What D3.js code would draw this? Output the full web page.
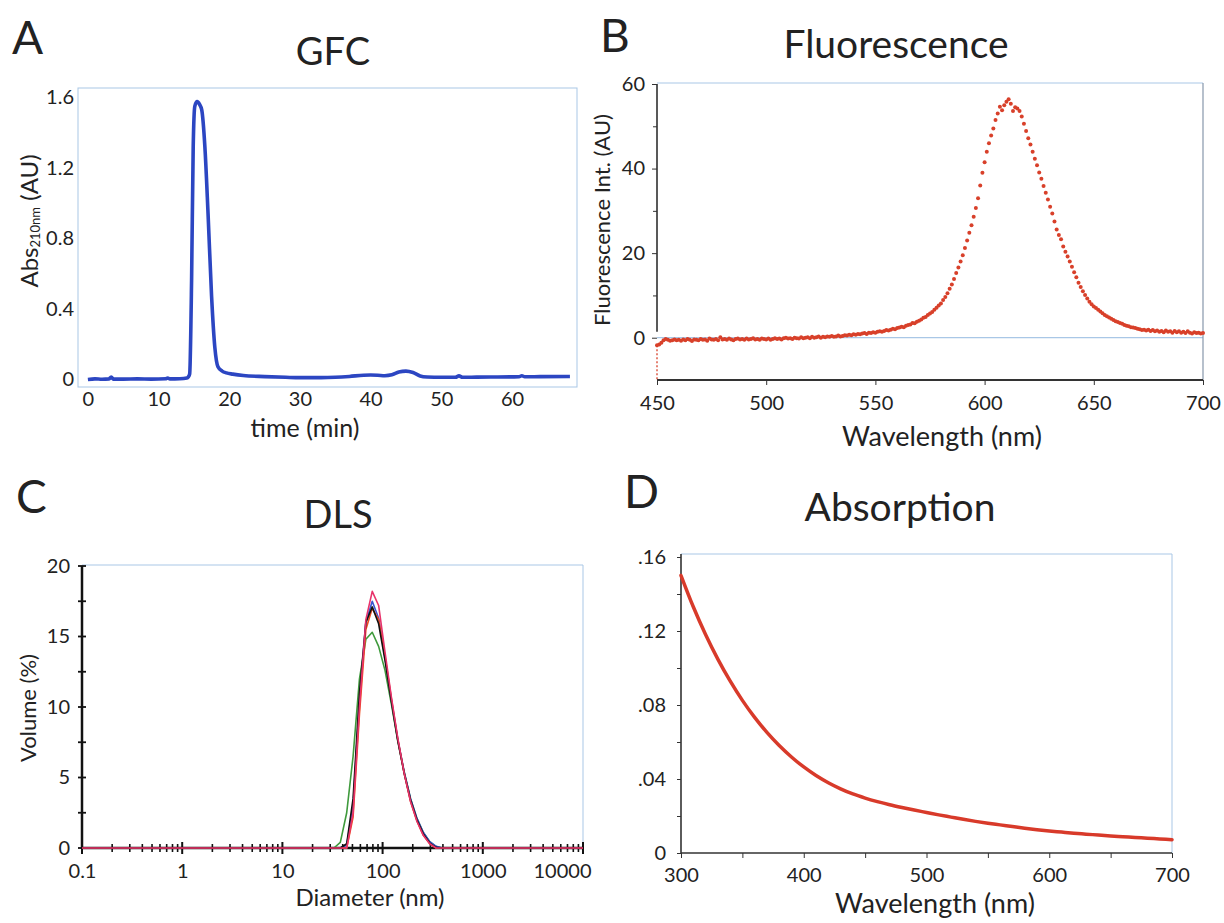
<!DOCTYPE html>
<html lang="en">
<head>
<meta charset="UTF-8">
<title>GFC / Fluorescence / DLS / Absorption</title>
<script src="https://cdn.jsdelivr.net/npm/d3@7"></script>
<style>
  body { margin: 0; background: #fff; }
  svg { display: block; font-family: Lato, "Open Sans", sans-serif; }
</style>
</head>
<body>
<svg id="fig" width="1224" height="923"></svg>
<script>
// ---- data ----

// A: GFC trace [time (min), Abs 210nm]
const gfcTrace = [
  [0,-0.002],[1,0.001],[2,-0.001],[3,0.001],[3.3,0.012],[3.6,0.0],[5,0.0],[7,0.001],[9,0.0],
  [11,0.002],[11.3,0.006],[11.6,0.001],[13,0.002],[14,0.006],[14.2,0.012],[14.4,0.03],
  [14.67,0.56],[14.9,1.32],[15.13,1.55],[15.46,1.576],[15.8,1.56],[16.1,1.53],[16.55,1.32],
  [17.0,0.94],[17.5,0.47],[17.96,0.18],[18.4,0.07],[19.0,0.045],[19.6,0.035],[20.5,0.028],
  [22,0.02],[25,0.014],[28,0.01],[30,0.008],[33,0.008],[35,0.01],[37,0.015],[39,0.022],
  [40,0.023],[41,0.022],[42,0.019],[43,0.024],[44,0.04],[45,0.045],[46,0.037],[47,0.018],
  [48,0.012],[50,0.01],[52,0.01],[52.5,0.018],[53,0.01],[55,0.011],[58,0.012],[61,0.013],
  [61.4,0.019],[61.8,0.013],[64,0.014],[68.2,0.015]
];
const gfcXTicks = [0, 10, 20, 30, 40, 50, 60];
const gfcYTicks = [0, 0.4, 0.8, 1.2, 1.6];

// B: fluorescence, one value per nm from 450 to 700
const fluoStart = 450;
const fluoValues = [
  -1.8,-1.6,-1.2,-0.6,-0.3,-0.5,-0.7,-0.6,-0.4,-0.6,
  -0.5,-0.7,-0.4,-0.6,-0.3,-0.5,-0.8,-0.4,-0.5,-0.6,
  -0.3,-0.5,-0.4,-0.7,-0.2,-0.4,-0.5,-0.3,-0.6,0.1,
  -0.4,-0.3,-0.5,-0.2,-0.4,-0.6,-0.3,-0.2,-0.4,-0.3,
  -0.5,-0.2,-0.4,-0.3,-0.1,-0.4,-0.3,-0.5,-0.2,-0.3,
  -0.4,-0.2,-0.5,-0.3,-0.1,-0.3,-0.2,-0.4,-0.1,0.0,
  -0.2,-0.1,-0.3,0.0,-0.1,-0.2,0.1,-0.1,0.0,0.1,
  -0.1,0.2,0.0,0.1,0.3,0.0,0.2,0.1,0.3,0.2,
  0.4,0.2,0.3,0.5,0.3,0.4,0.6,0.5,0.7,0.6,
  0.8,0.7,0.9,0.8,1.0,1.1,0.9,1.2,1.1,1.3,
  1.2,1.4,1.5,1.4,1.6,1.8,1.7,1.9,2.1,2.0,
  2.3,2.4,2.6,2.5,2.8,3.0,3.1,3.5,3.4,3.8,
  4.0,4.3,4.7,4.9,5.4,5.7,6.1,6.6,7.1,7.6,
  8.1,8.9,9.6,10.5,11.6,12.6,13.9,15.3,16.6,18.0,
  19.5,21.2,23.0,24.8,26.6,28.6,30.7,33.0,36.0,39.0,
  41.5,44.0,46.0,47.8,49.5,51.5,53.0,54.6,53.8,55.0,
  55.8,56.4,55.3,53.6,54.5,54.2,53.6,52.3,50.6,48.9,
  47.2,45.7,44.0,42.3,40.8,39.1,37.6,35.9,34.3,32.7,
  31.0,29.4,27.5,25.6,24.3,23.3,21.6,20.3,19.2,18.0,
  16.8,15.5,14.3,13.0,12.0,11.0,10.1,9.3,8.5,7.9,
  7.4,7.0,6.6,6.2,5.8,5.4,5.1,4.8,4.5,4.2,
  3.9,3.7,3.5,3.3,3.0,2.8,2.7,2.5,2.4,2.3,
  2.1,2.0,1.8,1.9,1.7,1.9,1.6,1.8,1.5,1.7,
  1.4,1.6,1.3,1.7,1.4,1.5,1.2,1.6,1.3,1.5,
  1.2,1.4,1.1,1.5,1.2,1.0,1.3,1.1,1.2,1.0,
  1.1
];
const fluoXTicks = [450, 500, 550, 600, 650, 700];
const fluoYTicks = [0, 20, 40, 60];

// C: DLS volume distributions (5 runs)
const dlsDiameter = [0.1,0.4,28.21,32.67,37.84,43.82,50.75,58.77,68.06,78.82,91.28,105.7,122.4,141.8,164.2,190.1,220.2,255.0,295.3,342.0,396.1,458.7,10000];
const dlsGreen = [0,0,0,0,0.4,2.5,6.5,12.0,14.8,15.3,14.3,12.6,10.2,7.6,5.4,3.5,2.1,1.1,0.45,0.1,0,0,0];
const dlsBlue  = [0,0,0,0,0,0.2,3.0,10.5,16.0,17.5,16.3,13.5,10.5,7.7,5.4,3.5,2.1,1.1,0.45,0.12,0,0,0];
const dlsRed   = [0,0,0,0,0,0,2.2,9.5,15.5,17.0,16.2,13.6,10.6,7.7,5.3,3.3,1.9,0.9,0.3,0,0,0,0];
const dlsBlack = [0,0,0,0,0,0.3,3.5,11.0,16.0,17.1,15.9,13.3,10.4,7.6,5.3,3.4,2.0,1.0,0.35,0.05,0,0,0];
const dlsPink  = [0,0,0,0,0,0,2.5,10.0,16.2,18.2,17.2,13.9,10.7,7.8,5.3,3.3,1.9,0.9,0.3,0,0,0,0];
const dlsXTicks = [0.1, 1, 10, 100, 1000, 10000];
const dlsYTicks = [0, 5, 10, 15, 20];

// D: absorption, every 10 nm from 300 to 700
const absStart = 300;
const absValues = [
  0.150,0.1331,0.1181,0.1048,0.0930,0.0825,0.0733,0.0652,0.0581,0.0519,
  0.0465,0.0419,0.0380,0.0347,0.0319,0.0297,0.0278,0.0261,0.0246,0.0232,
  0.0219,0.0206,0.0194,0.0182,0.0171,0.0161,0.0152,0.0143,0.0134,0.0126,
  0.0119,0.0113,0.0107,0.0102,0.0097,0.0092,0.0088,0.0084,0.0080,0.0076,
  0.0072
];
const absXTicks = [300, 400, 500, 600, 700];
const absYTicks = [0, 0.04, 0.08, 0.12, 0.16];

// ---- drawing ----
const svg = d3.select("#fig");
const INK = "#222";
const BOX = "#a9c7e6";
svg.append("rect").attr("width", 1224).attr("height", 923).attr("fill", "#fff");

function txt(g, s, x, y, size, anchor) {
  return g.append("text").attr("x", x).attr("y", y)
    .attr("font-size", size).attr("fill", INK)
    .attr("text-anchor", anchor || "start").text(s);
}
function vtxt(g, s, x, y, size) {
  return g.append("text").attr("transform", `translate(${x},${y}) rotate(-90)`)
    .attr("font-size", size).attr("fill", INK).attr("text-anchor", "middle").text(s);
}
function hline(g, x1, x2, y, col, w) {
  return g.append("line").attr("x1", x1).attr("x2", x2).attr("y1", y).attr("y2", y)
    .attr("stroke", col).attr("stroke-width", w);
}
function vline(g, x, y1, y2, col, w) {
  return g.append("line").attr("x1", x).attr("x2", x).attr("y1", y1).attr("y2", y2)
    .attr("stroke", col).attr("stroke-width", w);
}
function styleTicks(sel, size) {
  sel.select(".domain").remove();
  sel.selectAll("text").attr("font-size", size).attr("fill", INK)
    .attr("font-family", "Lato, 'Open Sans', sans-serif");
  sel.selectAll(".tick line").attr("stroke", "#333");
}

// ===== A: GFC =====
const gA = svg.append("g");
const xA = d3.scaleLinear().domain([-1.4, 69.2]).range([78, 577]);
const yA = d3.scaleLinear().domain([-0.045, 1.653]).range([387, 88]);
gA.append("rect").attr("x", 78).attr("y", 88).attr("width", 499).attr("height", 299)
  .attr("fill", "none").attr("stroke", BOX).attr("stroke-width", 1);
gA.append("g").attr("transform", "translate(78,0)")
  .call(d3.axisLeft(yA).tickValues(gfcYTicks).tickSize(0).tickPadding(4)
    .tickFormat(d => d === 0 ? "0" : d3.format(".1f")(d)))
  .call(s => styleTicks(s, 20));
gA.append("g").attr("transform", "translate(0,387)")
  .call(d3.axisBottom(xA).tickValues(gfcXTicks).tickSize(0).tickPadding(5))
  .call(s => styleTicks(s, 20));
gA.append("path").datum(gfcTrace)
  .attr("fill", "none").attr("stroke", "#2c46c2").attr("stroke-width", 3.6)
  .attr("stroke-linejoin", "round")
  .attr("d", d3.line().x(d => xA(d[0])).y(d => yA(d[1])).curve(d3.curveMonotoneX));
txt(gA, "A", 12, 54, 46);
txt(gA, "GFC", 333, 65, 38, "middle");
txt(gA, "time (min)", 305, 437, 25, "middle");
const absLabel = gA.append("text").attr("transform", "translate(38,221) rotate(-90)")
  .attr("font-size", 24).attr("fill", INK).attr("text-anchor", "middle");
absLabel.append("tspan").text("Abs");
absLabel.append("tspan").attr("font-size", 13).attr("dy", 2).text("210nm");
absLabel.append("tspan").attr("dy", -2).text(" (AU)");

// ===== B: Fluorescence =====
const gB = svg.append("g");
const xB = d3.scaleLinear().domain([450, 700]).range([657, 1203]);
const yB = d3.scaleLinear().domain([-10, 60]).range([380, 84]);
hline(gB, xB(450), xB(700), 83, BOX, 1);
hline(gB, xB(450), xB(700), yB(0), BOX, 1.2);
vline(gB, xB(700), 83, yB(-10), "#8797ab", 1.2);
vline(gB, xB(450), yB(60), yB(0) - 6, "#222", 1.5);
hline(gB, xB(450), xB(700), yB(-10), "#333", 1.8);
gB.append("g").attr("transform", `translate(${xB(450)},0)`)
  .call(d3.axisLeft(yB).tickValues(fluoYTicks).tickSize(5).tickPadding(7))
  .call(s => styleTicks(s, 20));
gB.append("g").attr("transform", `translate(${xB(450)},0)`)
  .call(d3.axisLeft(yB).tickValues([10, 30, 50]).tickSize(4).tickFormat(""))
  .call(s => styleTicks(s, 20));
gB.append("g").attr("transform", `translate(0,${yB(-10)})`)
  .call(d3.axisBottom(xB).tickValues(fluoXTicks).tickSize(5).tickPadding(11))
  .call(s => styleTicks(s, 20));
vline(gB, xB(fluoStart), yB(fluoValues[0]), yB(-10), "#d8402a", 1.3)
  .attr("stroke-dasharray", "2,2");
gB.append("g").selectAll("circle")
  .data(fluoValues.map((v, i) => [fluoStart + i, v]))
  .join("circle")
  .attr("cx", d => xB(d[0])).attr("cy", d => yB(d[1])).attr("r", 2)
  .attr("fill", "#d8402a");
txt(gB, "B", 600, 52, 46);
txt(gB, "Fluorescence", 896, 58, 39, "middle");
vtxt(gB, "Fluorescence Int. (AU)", 610, 220, 22);
txt(gB, "Wavelength (nm)", 942, 446, 27, "middle");

// ===== C: DLS =====
const gC = svg.append("g");
const xC = d3.scaleLog().domain([0.1, 10000]).range([82, 583]);
const yC = d3.scaleLinear().domain([0, 20]).range([848, 566]);
hline(gC, 82, 583, 565, BOX, 1);
vline(gC, 583, 565, 848, BOX, 1);
hline(gC, 81, 584, 848, "#111", 2.5);
vline(gC, 82, 566, 849, "#111", 2.5);
const minorX = [];
[0.1, 1, 10, 100, 1000].forEach(p => { for (let k = 2; k <= 9; k++) minorX.push(p * k); });
gC.append("g").selectAll("line").data(minorX).join("line")
  .attr("x1", d => xC(d)).attr("x2", d => xC(d)).attr("y1", 844).attr("y2", 852)
  .attr("stroke", "#111").attr("stroke-width", 1.6);
gC.append("g").selectAll("line").data(dlsXTicks).join("line")
  .attr("x1", d => xC(d)).attr("x2", d => xC(d)).attr("y1", 842).attr("y2", 854)
  .attr("stroke", "#111").attr("stroke-width", 2);
gC.append("g").selectAll("line").data(d3.range(0, 20.1, 2.5)).join("line")
  .attr("x1", 78).attr("x2", 86).attr("y1", d => yC(d)).attr("y2", d => yC(d))
  .attr("stroke", "#111").attr("stroke-width", 1.8);
gC.append("g").attr("transform", "translate(82,0)")
  .call(d3.axisLeft(yC).tickValues(dlsYTicks).tickSize(0).tickPadding(12))
  .call(s => styleTicks(s, 20));
const xAxC = gC.append("g").attr("transform", "translate(0,848)")
  .call(d3.axisBottom(xC).tickValues(dlsXTicks).tickSize(0).tickPadding(16)
    .tickFormat(d => d < 1 ? "0.1" : d3.format("d")(d)))
  .call(s => styleTicks(s, 20));
xAxC.selectAll(".tick text").filter(d => d === 10000).attr("text-anchor", "end").attr("x", 8);
const dlsLine = d3.line().x((d, i) => xC(dlsDiameter[i])).y(d => yC(d));
[[dlsGreen, "#3f9a3c"], [dlsBlue, "#3a55d0"], [dlsRed, "#ef4a1e"], [dlsBlack, "#111"], [dlsPink, "#e8336b"]]
  .forEach(([vals, col]) => {
    gC.append("path").datum(vals).attr("fill", "none").attr("stroke", col)
      .attr("stroke-width", 1.6).attr("stroke-linejoin", "round").attr("d", dlsLine);
  });
txt(gC, "C", 16, 513, 46);
txt(gC, "DLS", 338, 528, 38, "middle");
txt(gC, "Diameter (nm)", 370, 906, 24, "middle");
vtxt(gC, "Volume (%)", 36, 708, 22);

// ===== D: Absorption =====
const gD = svg.append("g");
const xD = d3.scaleLinear().domain([300, 700]).range([681, 1172]);
const yD = d3.scaleLinear().domain([0, 0.16]).range([853, 557]);
hline(gD, 681, 1172, 554, BOX, 1);
vline(gD, 1172, 554, 853, BOX, 1);
hline(gD, 681, 1172, 853, "#333", 1.6);
vline(gD, 681, 554, 853, "#333", 1.6);
gD.append("g").attr("transform", "translate(681,0)")
  .call(d3.axisLeft(yD).tickValues(d3.range(0, 0.161, 0.02)).tickSize(4).tickFormat(""))
  .call(s => styleTicks(s, 20));
gD.append("g").attr("transform", "translate(681,0)")
  .call(d3.axisLeft(yD).tickValues(absYTicks).tickSize(0).tickPadding(15)
    .tickFormat(d => d === 0 ? "0" : d3.format(".2f")(d).replace(/^0/, "")))
  .call(s => styleTicks(s, 20));
gD.append("g").attr("transform", "translate(0,853)")
  .call(d3.axisBottom(xD).tickValues(d3.range(300, 701, 50)).tickSize(5).tickFormat(""))
  .call(s => styleTicks(s, 20));
gD.append("g").attr("transform", "translate(0,853)")
  .call(d3.axisBottom(xD).tickValues(absXTicks).tickSize(0).tickPadding(15))
  .call(s => styleTicks(s, 20));
gD.append("path").datum(absValues)
  .attr("fill", "none").attr("stroke", "#d83a2a").attr("stroke-width", 3.5)
  .attr("stroke-linecap", "round")
  .attr("d", d3.line().x((d, i) => xD(absStart + i * 10)).y(d => yD(d)).curve(d3.curveMonotoneX));
txt(gD, "D", 624, 508, 46);
txt(gD, "Absorption", 900, 521, 39, "middle");
txt(gD, "Wavelength (nm)", 935, 913, 27, "middle");
</script>
</body>
</html>
